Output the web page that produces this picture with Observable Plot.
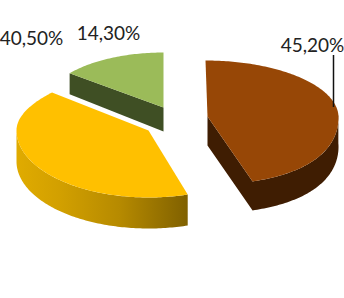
<!DOCTYPE html>
<html><head><meta charset="utf-8">
<script src="https://cdn.jsdelivr.net/npm/d3@7"></script>
<script src="https://cdn.jsdelivr.net/npm/@observablehq/plot@0.6"></script>
<style>html,body{margin:0;padding:0;background:#fff}svg{display:block}</style>
</head><body><div id="chart"></div>
<script>
// data
const categories = ["A", "B", "C"];
const shares = [45.2, 40.5, 14.3];
const labels = ["45,20%", "40,50%", "14,30%"];

// layout (pixel units of the identity scales), one per slice
const tops = ["#974706", "#ffc000", "#9bbb59"];
const geom = [
  {cx: 207, cy: 116, rx: 131, up: 56, down: 68, kDown: 0.12, kUp: 0, tilt: -2, depth: 29, wallFrom: 88},
  {cx: 148, cy: 130, rx: 132, up: 61, down: 67, kDown: 0, kUp: -0.17, tilt: 0, depth: 31, wallFrom: 270},
  {cx: 163, cy: 107, rx: 120, up: 55, down: 55, kDown: 0, kUp: 0, tilt: 0, depth: 24, wallFrom: null}
];
const labelPos = [[312, 45], [31, 38], [108, 33]];

const total = d3.sum(shares);
const cum = d3.cumsum(shares);
const angles = shares.map((s, i) => [(cum[i] - s) / total * 360, cum[i] / total * 360]);
const rad = d => d * Math.PI / 180;

function pt(g, deg, dz = 0) {
  const t = rad(deg), c = Math.cos(t), s = Math.sin(t);
  return {
    x: g.cx + g.rx * s * (1 + (c > 0 ? g.kUp : g.kDown) * c * c) + g.tilt * c,
    y: g.cy - (c > 0 ? g.up : g.down) * c + dz
  };
}
function arc(g, a0, a1, dz = 0) {
  const n = Math.max(2, Math.ceil(Math.abs(a1 - a0)));
  return d3.range(n + 1).map(i => pt(g, a0 + (a1 - a0) * i / n, dz));
}
const apex = (g, dz = 0) => ({x: g.cx, y: g.cy + dz});
const poly = (points, fill) => Plot.line(points, {x: "x", y: "y", fill, stroke: "none"});

function gradientDefs() {
  const svg = d3.create("svg:g");
  const lg = svg.append("defs").append("linearGradient")
    .attr("id", "yellowWall").attr("gradientUnits", "userSpaceOnUse")
    .attr("x1", 16).attr("x2", 188).attr("y1", 0).attr("y2", 0);
  [[0, "#e0ab00"], [0.25, "#d2a000"], [0.6, "#b68a00"], [1, "#7f6000"]].forEach(([o, c]) =>
    lg.append("stop").attr("offset", o).attr("stop-color", c));
  return svg.node();
}

const [gB, gY, gG] = geom;
const [aB, aY, aG] = angles;
const marks = [
  gradientDefs,
  // green
  poly([pt(gG, aG[0]), apex(gG), apex(gG, gG.depth), pt(gG, aG[0], gG.depth - 3)], "#3f4f24"),
  poly([apex(gG), ...arc(gG, aG[0], aG[1])], tops[2]),
  // yellow
  poly([...arc(gY, aY[0], gY.wallFrom), ...arc(gY, gY.wallFrom, aY[0], gY.depth)], "url(#yellowWall)"),
  poly([apex(gY), ...arc(gY, aY[0], aY[1])], tops[1]),
  // brown
  poly([apex(gB), apex(gB, gB.depth), ...arc(gB, aB[1], gB.wallFrom, gB.depth), ...arc(gB, gB.wallFrom, aB[1])], "#3f1d02"),
  poly([apex(gB), ...arc(gB, aB[0], aB[1])], tops[0]),
  // leader
  Plot.ruleX([333], {y1: 55, y2: 107, stroke: "#111", strokeWidth: 1.5}),
  Plot.text(labels, {
    x: (d, i) => labelPos[i][0], y: (d, i) => labelPos[i][1], text: d => d,
    fontFamily: "Lato", fontSize: 19, fill: "#222", textAnchor: "middle"
  })
];

document.getElementById("chart").append(Plot.plot({
  width: 344, height: 298, margin: 0,
  x: {domain: [0, 344], range: [0, 344], axis: null},
  y: {domain: [0, 298], range: [0, 298], axis: null},
  style: {background: "#fff"},
  marks
}));
</script></body></html>
